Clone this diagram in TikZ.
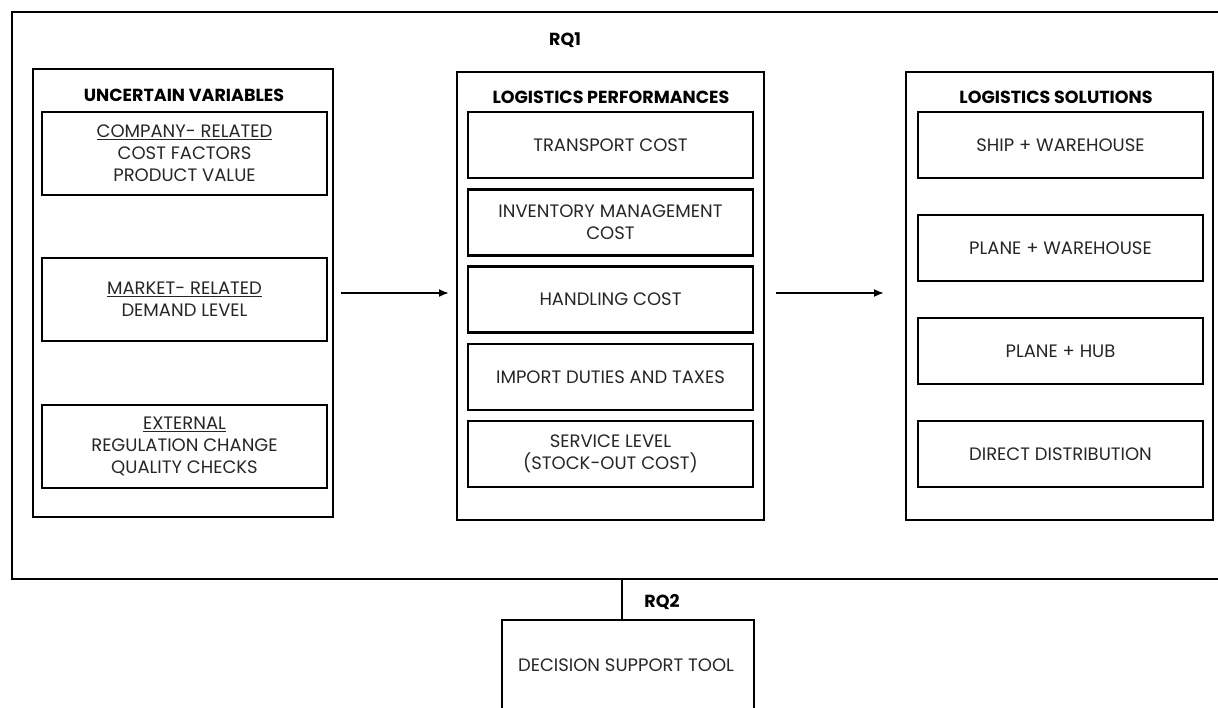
\documentclass[tikz,border=0pt]{standalone}
\usepackage{fontspec}
\setmainfont{Poppins}
\usetikzlibrary{arrows.meta}
\definecolor{txt}{HTML}{262626}
\tikzset{
  panel/.style={draw, line width=2pt, inner sep=0pt},
  item/.style={draw, line width=2.4pt, inner sep=0pt, align=center, text=txt, font=\fontsize{18}{22}\selectfont},
  ttl/.style={inner sep=0pt, font=\fontsize{17.5}{21}\selectfont\bfseries},
  arr/.style={-{Latex[length=10pt,width=8pt]}, line width=1.8pt},
}
\begin{document}
\begin{tikzpicture}[x=1pt,y=-1pt]
\useasboundingbox (0,0) rectangle (1218,707);
\clip (0,0) rectangle (1218,707);
% outer frame
\node[panel, minimum width=1230pt, minimum height=567pt] (outer) at (627,295.5) {};
\node[ttl] (rq1) at (565,40) {RQ1};
% left panel
\node[panel, minimum width=300pt, minimum height=448pt] (uv) at (183,293) {};
\node[ttl] (uvt) at (184,95) {UNCERTAIN VARIABLES};
\node[item, minimum width=285pt, minimum height=83pt] (u1) at (184.5,153.5) {\underline{COMPANY- RELATED}\\COST FACTORS\\PRODUCT VALUE};
\node[item, minimum width=285pt, minimum height=83pt] (u2) at (184.5,299.5) {\underline{MARKET- RELATED}\\DEMAND LEVEL};
\node[item, minimum width=285pt, minimum height=83pt] (u3) at (184.5,446.5) {\underline{EXTERNAL}\\REGULATION CHANGE\\QUALITY CHECKS};
% middle panel
\node[panel, minimum width=307pt, minimum height=448pt] (lp) at (610.5,296) {};
\node[ttl] (lpt) at (611,97) {LOGISTICS PERFORMANCES};
\node[item, minimum width=285pt, minimum height=66pt] (p1) at (610.5,145) {TRANSPORT COST};
\node[item, minimum width=285pt, minimum height=66pt] (p2) at (610.5,222.5) {INVENTORY MANAGEMENT\\COST};
\node[item, minimum width=285pt, minimum height=66pt] (p3) at (610.5,299.5) {HANDLING COST};
\node[item, minimum width=285pt, minimum height=66pt] (p4) at (610.5,377) {IMPORT DUTIES AND TAXES};
\node[item, minimum width=285pt, minimum height=66pt] (p5) at (610.5,454) {SERVICE LEVEL\\(STOCK-OUT COST)};
% right panel
\node[panel, minimum width=307pt, minimum height=448pt] (ls) at (1059.5,296) {};
\node[ttl] (lst) at (1056,97) {LOGISTICS SOLUTIONS};
\node[item, minimum width=285pt, minimum height=66pt] (s1) at (1060.5,145) {SHIP + WAREHOUSE};
\node[item, minimum width=285pt, minimum height=66pt] (s2) at (1060.5,248) {PLANE + WAREHOUSE};
\node[item, minimum width=285pt, minimum height=66pt] (s3) at (1060.5,351) {PLANE + HUB};
\node[item, minimum width=285pt, minimum height=66pt] (s4) at (1060.5,454) {DIRECT DISTRIBUTION};
% arrows
\draw[arr, shorten <=7pt, shorten >=7pt] ([yshift=3pt]uv.east |- lp.east) -- ([yshift=3pt]lp.west);
\draw[arr, shorten <=11pt, shorten >=21pt] ([yshift=3pt]lp.east) -- ([yshift=3pt]ls.west);
% RQ2 and decision support tool
\node[ttl] (rq2) at (662,602) {RQ2};
\node[panel, line width=2.2pt, minimum width=252pt, minimum height=140pt, anchor=north] (dst) at (628,619) {};
\node[inner sep=0pt, text=txt, font=\fontsize{18}{22}\selectfont] (dstt) at (626,665) {DECISION SUPPORT TOOL};
\coordinate (c1) at (622,579);
\draw[line width=1.2pt] (c1) -- (c1 |- dst.north);
\end{tikzpicture}
\end{document}
